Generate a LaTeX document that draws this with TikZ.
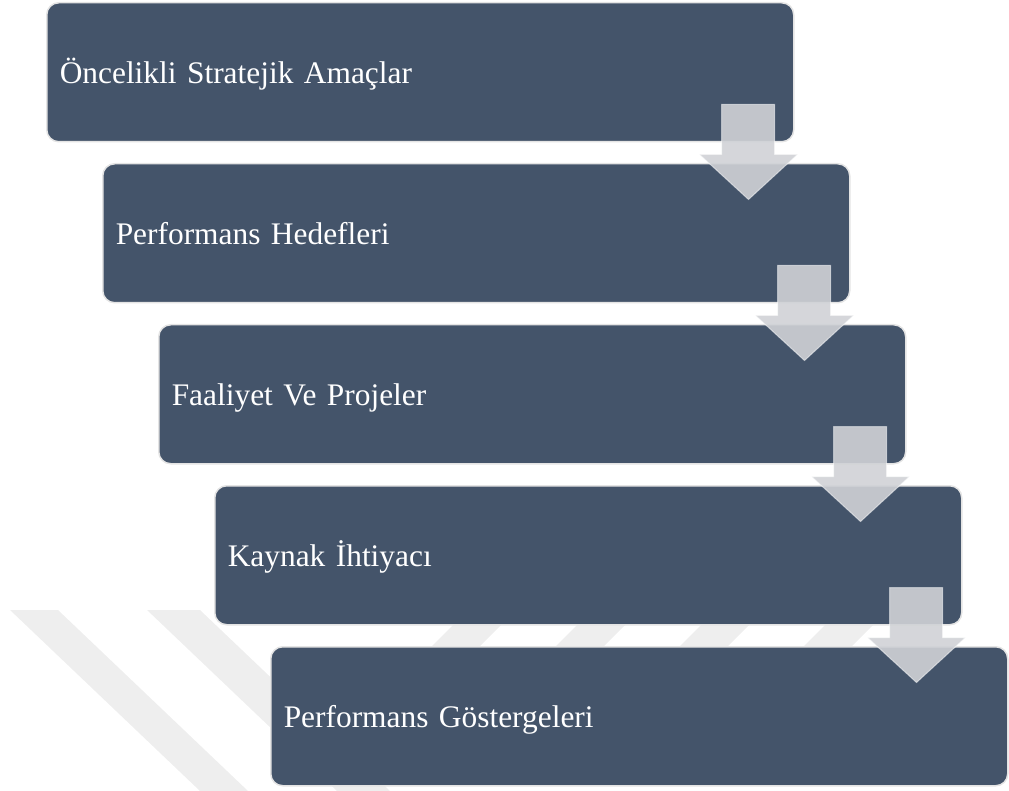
\documentclass[tikz,border=0pt]{standalone}
\usepackage{fontspec}
\setmainfont{Liberation Serif}
\definecolor{boxblue}{HTML}{44546A}
\definecolor{boxrim}{HTML}{E4E4E4}
\definecolor{arrowgray}{RGB}{208,210,214}
\definecolor{markgray}{RGB}{238,238,238}
\tikzset{
  stage/.style={rounded corners=12pt, fill=boxblue, draw=boxrim, line width=1.5pt,
    anchor=north west, minimum height=139pt, inner xsep=13pt, text=white, align=left,
    font=\fontsize{31.4}{38}\selectfont, text height=23pt, text depth=0pt},
  downarrow/.style={fill=arrowgray, fill opacity=0.9, draw=white, draw opacity=0.5, line width=1pt},
  wmark/.style={fill=markgray}
}
\begin{document}
\begin{tikzpicture}[x=1pt,y=-1pt]
\useasboundingbox (0,0) rectangle (1009,791);
% faint watermark stripes
\fill[wmark] (10,610) -- (58,610) -- (248,791) -- (200,791) -- cycle;
\fill[wmark] (147,610) -- (200,610) -- (390,791) -- (337,791) -- cycle;
\foreach \s in {433,557,681,805}
  \fill[wmark] (\s-5,650) -- (\s+43,650) -- (\s+73,620) -- (\s+25,620) -- cycle;
% stages
\foreach \i/\w/\txt in {0/747/{Öncelikli Stratejik Amaçlar}, 1/747/{Performans Hedefleri},
    2/747/{Faaliyet Ve Projeler}, 3/747/{Kaynak İhtiyacı}, 4/737/{Performans Göstergeleri}}{
  \pgfmathsetmacro\tw{\w-26}
  \node[stage, text width=\tw pt] (b\i) at (46+56*\i, 2+161*\i) {\txt};
}
% arrows between stages
\foreach \i in {0,...,3}
  \draw[downarrow, shift={(b\i.south east)}] (-73,-38) -- (-20,-38) -- (-20,12) -- (3,12)
    -- (-46,57) -- (-95,12) -- (-73,12) -- cycle;
\end{tikzpicture}
\end{document}
